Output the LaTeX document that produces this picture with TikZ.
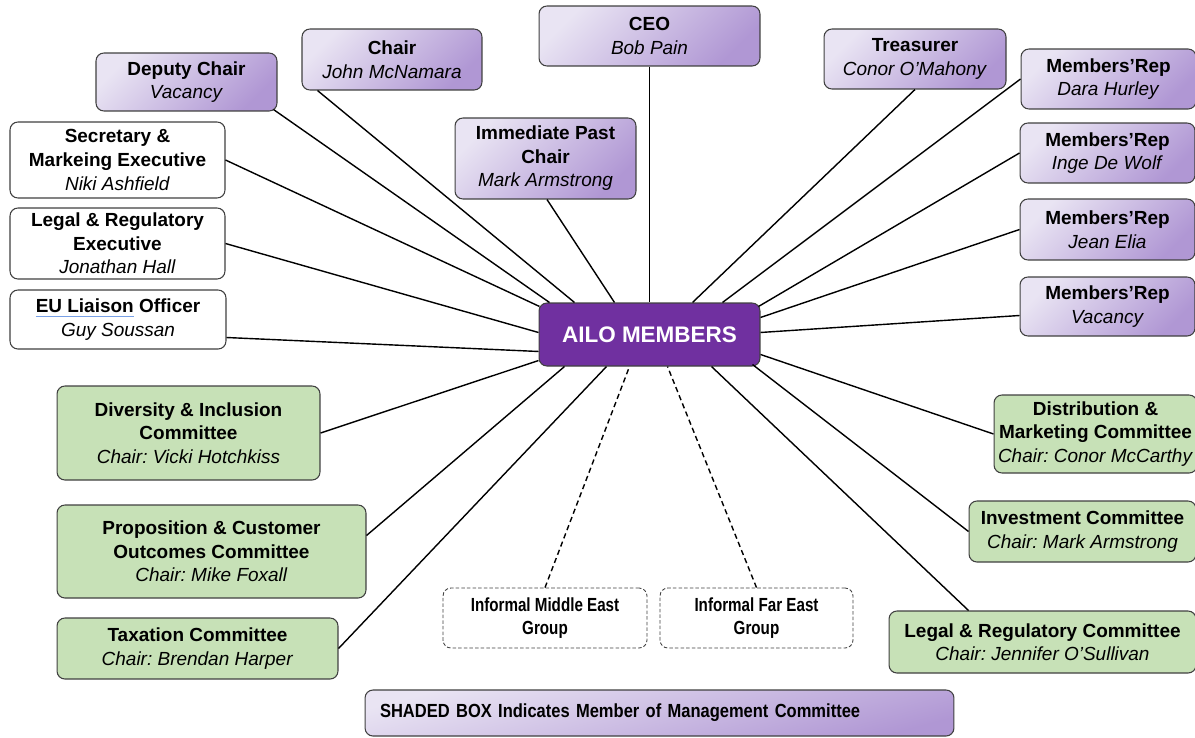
\documentclass[tikz,border=0pt]{standalone}
\usepackage{fontspec}
\setmainfont{Liberation Sans}
\newfontfamily\narrowfont[FakeStretch=0.8]{Liberation Sans}
\newfontfamily\legendfont[FakeStretch=0.87]{Liberation Sans}
\usetikzlibrary{calc}
\frenchspacing
\definecolor{mgmtlight}{RGB}{233,228,243}
\definecolor{mgmtdark}{RGB}{176,151,212}
\definecolor{ailopurple}{RGB}{112,48,160}
\definecolor{cttegreen}{RGB}{199,225,183}
\definecolor{boxline}{RGB}{64,64,64}
\definecolor{spellblue}{RGB}{120,160,230}
\newcommand{\spellmark}[1]{\setbox0\hbox{#1}\rlap{\color{spellblue}\rule[-2.6pt]{\wd0}{0.7pt}}\box0\relax}
\tikzset{
  base/.style={draw=boxline, line width=0.6pt, rounded corners=4.5pt, align=center,
    inner sep=1pt, font=\fontsize{10.8}{13.4}\selectfont},
  mgmt/.style={base, top color=mgmtlight, bottom color=mgmtdark, shading angle=45},
  plain/.style={base, fill=white},
  ctte/.style={base, fill=cttegreen},
  informal/.style={base, fill=white, dash pattern=on 2pt off 1.2pt, line width=0.5pt,
    font=\fontsize{10.8}{13.4}\narrowfont\bfseries},
  hub/.style={base, fill=ailopurple, draw=black!75, text=white,
    font=\fontsize{12.8}{15}\selectfont\bfseries},
  legend/.style={mgmt, shading angle=15, inner xsep=0.3cm, align=left,
    font=\fontsize{10.8}{13.4}\legendfont\bfseries}
}
\begin{document}
\begin{tikzpicture}[x=0.02cm, y=-0.02cm]
  \useasboundingbox (0,0) rectangle (1195,737);
  \path
    (649.5,334.5) node[hub, minimum width=4.42cm, minimum height=1.26cm] (ailo) {AILO MEMBERS}
    (186.5,82) node[mgmt, minimum width=3.62cm, minimum height=1.16cm] (dep) {\textbf{Deputy Chair}\\\textit{Vacancy}}
    (392,59.5) node[mgmt, minimum width=3.60cm, minimum height=1.22cm] (chair) {\textbf{Chair}\\\textit{John McNamara}}
    (649.5,36) node[mgmt, minimum width=4.42cm, minimum height=1.20cm] (ceo) {\textbf{CEO}\\\textit{Bob Pain}}
    (915,59) node[mgmt, minimum width=3.64cm, minimum height=1.20cm] (treas) {\textbf{Treasurer}\\\textit{Conor O’Mahony}}
    (545.5,158.5) node[mgmt, minimum width=3.62cm, minimum height=1.62cm] (imm) {\textbf{Immediate Past}\\\textbf{Chair}\\\textit{Mark Armstrong}}
    (1108.5,79) node[mgmt, minimum width=3.50cm, minimum height=1.20cm] (dara) {\textbf{Members’Rep}\\\textit{Dara Hurley}}
    (1107.5,153) node[mgmt, minimum width=3.50cm, minimum height=1.20cm] (inge) {\textbf{Members’Rep}\\\textit{Inge De Wolf}}
    (1107.5,229.5) node[mgmt, minimum width=3.50cm, minimum height=1.22cm] (jean) {\textbf{Members’Rep}\\\textit{Jean Elia}}
    (1107.5,306.5) node[mgmt, minimum width=3.50cm, minimum height=1.18cm] (vac) {\textbf{Members’Rep}\\\textit{Vacancy}}
    (117.5,160) node[plain, minimum width=4.30cm, minimum height=1.52cm] (sec) {\textbf{Secretary \&}\\\textbf{Markeing Executive}\\\textit{Niki Ashfield}}
    (117.5,243.5) node[plain, minimum width=4.30cm, minimum height=1.42cm] (legx) {\textbf{Legal \& Regulatory}\\\textbf{Executive}\\\textit{Jonathan Hall}}
    (118,319.5) node[plain, minimum width=4.32cm, minimum height=1.18cm] (eu) {\textbf{\spellmark{EU Liaison} Officer}\\\textit{Guy Soussan}}
    (188.5,433) node[ctte, minimum width=5.26cm, minimum height=1.88cm] (div) {\textbf{Diversity \& Inclusion}\\\textbf{Committee}\\\textit{Chair: Vicki Hotchkiss}}
    (211.5,551.5) node[ctte, minimum width=6.18cm, minimum height=1.86cm] (prop) {\textbf{Proposition \& Customer}\\\textbf{Outcomes Committee}\\\textit{Chair: Mike Foxall}}
    (197.5,648.5) node[ctte, minimum width=5.62cm, minimum height=1.22cm] (tax) {\textbf{Taxation Committee}\\\textit{Chair: Brendan Harper}}
    (545,618) node[informal, minimum width=4.08cm, minimum height=1.20cm] (mid) {Informal Middle East\\Group}
    (756.5,618) node[informal, minimum width=3.86cm, minimum height=1.20cm] (far) {Informal Far East\\Group}
    (1095.5,434) node[ctte, minimum width=4.06cm, minimum height=1.56cm] (dist) {\textbf{Distribution \&}\\\textbf{Marketing Committee}\\\textit{Chair: Conor McCarthy}}
    (1082.5,531.5) node[ctte, minimum width=4.54cm, minimum height=1.22cm] (inv) {\textbf{Investment Committee}\\\textit{Chair: Mark Armstrong}}
    (1042.5,642) node[ctte, minimum width=6.14cm, minimum height=1.24cm] (legc) {\textbf{Legal \& Regulatory Committee}\\\textit{Chair: Jennifer O’Sullivan}}
    (659.5,713) node[legend, text width=11.18cm, minimum height=0.92cm] (key) {SHADED BOX Indicates Member of Management Committee};
  \begin{scope}[line width=0.8pt]
    \draw (sec.east) to ($(ailo.north west)+(1,4)$);
    \draw ($(dep.south east)+(-4,-2)$) to ($(ailo.north west)+(11,0)$);
    \draw ($(chair.south west)+(16,0)$) to ($(ailo.north west)+(36,0)$);
    \draw ($(imm.south)+(1.5,0)$) to ($(ailo.north west)+(76,0)$);
    \draw (ceo.south) to (ailo.north);
    \draw (treas.south) to ($(ailo.north west)+(154,0)$);
    \draw (dara.west) to ($(ailo.north west)+(184,0)$);
    \draw (inge.west) to ($(ailo.north east)+(-2,4)$);
    \draw (jean.west) to ($(ailo.north east)+(0,15)$);
    \draw ($(vac.west)+(0,9)$) to ($(ailo.north east)+(0,30)$);
    \draw (dist.west) to ($(ailo.north east)+(0,52)$);
    \draw (inv.west) to ($(ailo.south east)+(-8,-2)$);
    \draw ($(legc.north west)+(80,0)$) to ($(ailo.south west)+(173,0)$);
    \draw (tax.east) to ($(ailo.south west)+(68,0)$);
    \draw ($(prop.east)+(0,-16)$) to ($(ailo.south west)+(26,0)$);
    \draw (div.east) to ($(ailo.south west)+(0,-6)$);
    \draw ($(eu.east)+(0,18)$) to ($(ailo.north west)+(0,49)$);
    \draw (legx.east) to ($(ailo.north west)+(0,30)$);
  \end{scope}
  \begin{scope}[line width=0.8pt, dash pattern=on 3pt off 2pt]
    \draw (mid.north) to ($(ailo.south west)+(91,0)$);
    \draw (far.north) to ($(ailo.south west)+(129,0)$);
  \end{scope}
\end{tikzpicture}
\end{document}
